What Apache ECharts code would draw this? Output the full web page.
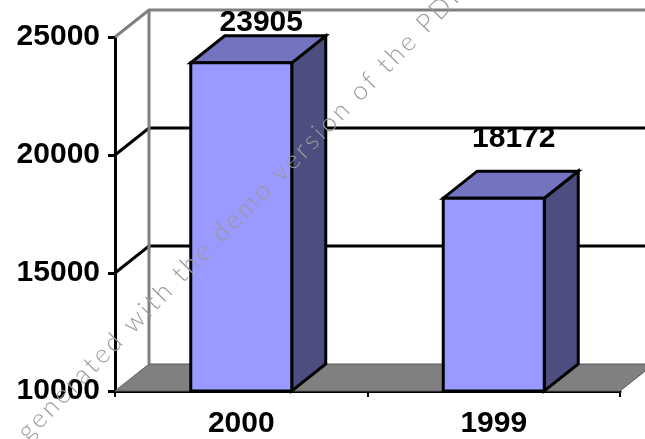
<!DOCTYPE html>
<html><head><meta charset="utf-8">
<script src="https://cdn.jsdelivr.net/npm/echarts@6/dist/echarts.min.js"></script>
<style>html,body{margin:0;padding:0;background:#fff}#c{width:645px;height:439px}</style>
</head><body><div id="c"></div>
<script>
const categories = ['2000', '1999'];
const values = [23905, 18172];
const yTicks = [10000, 15000, 20000, 25000];
const watermark = 'generated with the demo version of the PDF';

const DX = 34, DY = -27;
const FONT = '"Liberation Sans", Arial, sans-serif';
const chart = echarts.init(document.getElementById('c'), null, {renderer: 'canvas'});

function wallItem(params, api) {
  const cs = params.coordSys;
  const v = api.value(1);
  const y = api.coord([0, v])[1];
  const x0 = cs.x, x1 = cs.x + cs.width;
  const children = [];
  const isBottom = v === yTicks[0];
  const isTop = v === yTicks[yTicks.length - 1];
  if (isBottom) {
    children.push({type: 'polygon', shape: {points: [[x0, y], [x1, y], [x1 + DX, y + DY], [x0 + DX, y + DY]]},
      style: {fill: '#808080', stroke: '#5a5a5a', lineWidth: 1}});
  } else {
    const col = isTop ? '#808080' : '#000';
    children.push({type: 'polyline', shape: {points: [[x0, y], [x0 + DX, y + DY], [x1 + DX + 20, y + DY]]},
      style: {stroke: col, lineWidth: 3, fill: null}});
  }
  if (isTop) {
    const yb = api.coord([0, yTicks[0]])[1];
    children.push({type: 'line', shape: {x1: x0 + DX, y1: y + DY, x2: x0 + DX, y2: yb + DY},
      style: {stroke: '#808080', lineWidth: 3}});
  }
  return {type: 'group', children: children};
}

function barItem(params, api) {
  const xi = api.value(0), v = api.value(1);
  const top = api.coord([xi, v]);
  const base = api.coord([xi, yTicks[0]]);
  const w = api.size([1, 0])[0] * 0.4;
  const l = top[0] - w / 2, r = top[0] + w / 2, t = top[1], b = base[1];
  const st = {stroke: '#000', lineWidth: 3, lineJoin: 'miter'};
  const labelY = Math.max(t + DY - 32, 23);
  return {type: 'group', children: [
    {type: 'polygon', shape: {points: [[r, t], [r + DX, t + DY], [r + DX, b + DY], [r, b]]}, style: Object.assign({fill: '#4d4d80'}, st)},
    {type: 'polygon', shape: {points: [[l, t], [r, t], [r + DX, t + DY], [l + DX, t + DY]]}, style: Object.assign({fill: '#7373bf'}, st)},
    {type: 'rect', shape: {x: l, y: t, width: w, height: b - t}, style: Object.assign({fill: '#9999ff'}, st)},
    {type: 'text', x: top[0] + DX / 2 + 3, y: labelY,
      style: {text: String(v), font: 'bold 30px ' + FONT, fill: '#000', align: 'center', verticalAlign: 'middle'}}
  ]};
}

// watermark characters laid along a diagonal
const wmGraphics = [];
(function () {
  const cv = document.createElement('canvas').getContext('2d');
  const wf = '300 26px Lato, sans-serif';
  cv.font = wf;
  const ang = 45.6 * Math.PI / 180;
  const ux = Math.cos(ang), uy = -Math.sin(ang);
  let s = 0;
  const ls = 3;
  for (const ch of watermark) {
    const cw = cv.measureText(ch).width;
    const c = s + cw / 2;
    wmGraphics.push({type: 'text', x: 22 + ux * c, y: 436 + uy * c, rotation: ang, silent: true, z: 100, zlevel: 0,
      style: {text: ch, font: wf, fill: '#9a9a9a', align: 'center', verticalAlign: 'middle'}});
    s += cw + ls;
  }
})();

chart.setOption({
  animation: false,
  grid: {left: 115, right: 25, top: 37, bottom: 47, containLabel: false},
  xAxis: {
    type: 'category', data: categories,
    axisLine: {show: true, lineStyle: {color: '#000', width: 3}},
    axisTick: {show: true, length: 6, lineStyle: {color: '#000', width: 2}},
    axisLabel: {color: '#000', fontSize: 30, fontWeight: 'bold', fontFamily: FONT, margin: 18}
  },
  yAxis: {
    type: 'value', min: 10000, max: 25000, interval: 5000,
    splitLine: {show: false},
    axisLine: {show: true, lineStyle: {color: '#000', width: 3}},
    axisTick: {show: true, length: 7, lineStyle: {color: '#000', width: 3}},
    axisLabel: {color: '#000', fontSize: 30, fontWeight: 'bold', fontFamily: FONT, margin: 15,
      formatter: v => String(v)}
  },
  graphic: {elements: wmGraphics},
  series: [
    {type: 'custom', renderItem: wallItem, data: yTicks.map(v => [0, v]), encode: {x: 0, y: 1}, z: 1, clip: false},
    {type: 'custom', renderItem: barItem, data: values.map((v, i) => [i, v]), encode: {x: 0, y: 1}, z: 3, clip: false}
  ]
});
</script></body></html>
